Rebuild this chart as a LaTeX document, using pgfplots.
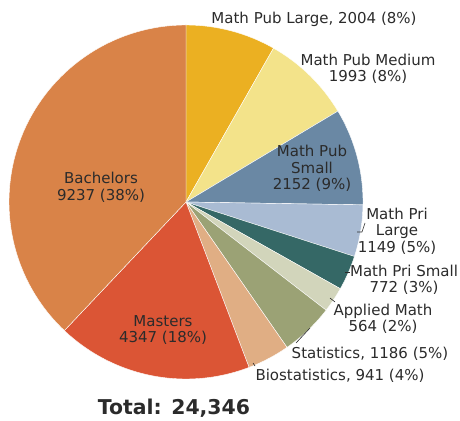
\documentclass[border=0pt]{standalone}
\usepackage{pgfplots}
\usepackage{pgfplotstable}
\pgfplotsset{compat=1.18}
\usepackage{fontspec}
\setmainfont{DejaVu Sans}
\definecolor{cA}{HTML}{EBB022}
\definecolor{cB}{HTML}{F3E38A}
\definecolor{cC}{HTML}{6A88A4}
\definecolor{cD}{HTML}{A9BBD3}
\definecolor{cE}{HTML}{356866}
\definecolor{cF}{HTML}{D2D5BB}
\definecolor{cG}{HTML}{9BA275}
\definecolor{cH}{HTML}{E0AE84}
\definecolor{cI}{HTML}{DB5535}
\definecolor{cJ}{HTML}{D98348}
\definecolor{txt}{HTML}{2B2B2B}
\pgfplotstableread{
value color
2004 cA
1993 cB
2152 cC
1149 cD
772 cE
564 cF
1186 cG
941 cH
4347 cI
9237 cJ
}\piedata
\begin{document}
\begin{tikzpicture}
\begin{axis}[width=460pt,height=420pt,scale only axis,
  xmin=0,xmax=460,ymin=0,ymax=420,hide axis,clip=false]
\pgfplotsextra{
  \gdef\tot{0}
  \foreach \i in {0,...,9}{%
    \pgfplotstablegetelem{\i}{value}\of\piedata
    \pgfmathparse{\tot+\pgfplotsretval/1000}\xdef\tot{\pgfmathresult}}
  \gdef\cum{0}
  \foreach \i in {0,...,9}{%
    \pgfplotstablegetelem{\i}{value}\of\piedata
    \pgfmathsetmacro\v{\pgfplotsretval/1000}
    \pgfplotstablegetelem{\i}{color}\of\piedata \let\c\pgfplotsretval
    \pgfmathsetmacro\a{90-360*(\cum/\tot)}
    \pgfmathsetmacro\b{90-360*((\cum+\v)/\tot)}
    \fill[fill=\c, draw=white, line width=0.4pt, line join=round]
      (axis cs:186,218) -- ([shift={(axis cs:186,218)}]\a:177pt)
      arc[start angle=\a, end angle=\b, radius=177pt] -- cycle;
    \pgfmathparse{\cum+\v}\xdef\cum{\pgfmathresult}
  }
}
\begin{scope}[every node/.style={text=txt, align=center,
   font=\fontsize{15}{16.5}\selectfont, inner sep=0pt}]
\node at (axis cs:314,401) {Math Pub Large, 2004 (8\%)};
\node at (axis cs:368,351) {Math Pub Medium\\1993 (8\%)};
\node at (axis cs:312,251.5) {Math Pub\\Small\\2152 (9\%)};
\node at (axis cs:397,189) {Math Pri\\Large\\1149 (5\%)};
\node at (axis cs:404,140) {Math Pri Small\\772 (3\%)};
\node at (axis cs:383,101) {Applied Math\\564 (2\%)};
\node at (axis cs:370,66) {Statistics, 1186 (5\%)};
\node at (axis cs:340,44) {Biostatistics, 941 (4\%)};
\node at (axis cs:163,90) {Masters\\4347 (18\%)};
\node at (axis cs:101,232.5) {Bachelors\\9237 (38\%)};
\node[font=\fontsize{20.4}{24}\selectfont\bfseries, anchor=base] at (axis cs:174,5) {Total: 24,346};
\end{scope}
\draw[txt, line width=0.6pt] (axis cs:357,188) -- (axis cs:362,188) -- (axis cs:365,197);
\draw[txt, line width=0.6pt] (axis cs:345,148) -- (axis cs:350,148);
\draw[txt, line width=0.6pt] (axis cs:330,122) -- (axis cs:335,118);
\draw[txt, line width=0.6pt] (axis cs:310,92) -- (axis cs:296,77);
\draw[txt, line width=0.6pt] (axis cs:253,57) -- (axis cs:255,54);
\end{axis}
\pgfresetboundingbox
\path[use as bounding box] (current axis.south west) rectangle (current axis.north east);
\end{tikzpicture}
\end{document}
